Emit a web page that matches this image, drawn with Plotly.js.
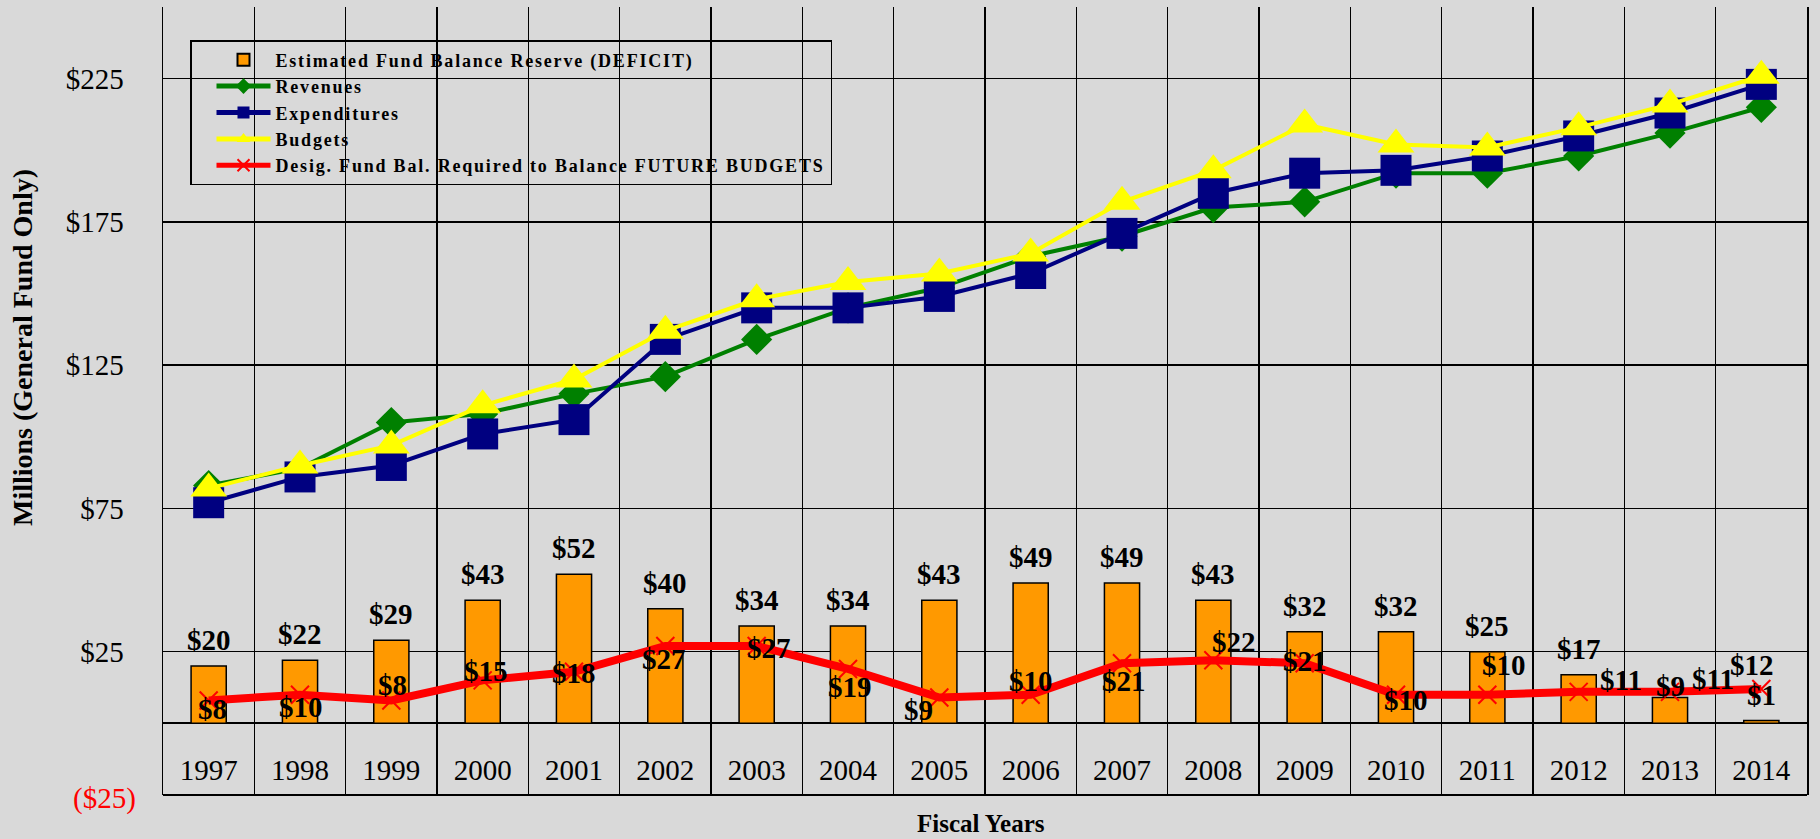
<!DOCTYPE html>
<html>
<head>
<meta charset="utf-8">
<script src="https://cdn.plot.ly/plotly-3.0.1.min.js"></script>
<style>
  html, body { margin: 0; padding: 0; background: #d9d9d9; }
  #chart { width: 1820px; height: 839px; }
  .legendtext { letter-spacing: 1.8px; }
</style>
</head>
<body>
<div id="chart"></div>
<script>
// ---- data ----
const years = ['1997','1998','1999','2000','2001','2002','2003','2004','2005','2006','2007','2008','2009','2010','2011','2012','2013','2014'];
const reserve = [20, 22, 29, 43, 52, 40, 34, 34, 43, 49, 49, 43, 32, 32, 25, 17, 9, 1];
const revenues = [83, 89, 105, 108, 115, 121, 134, 145, 152, 163, 170, 180, 182, 192, 192, 198, 206, 215];
const expenditures = [77, 86, 90, 101, 106, 134, 145, 145, 149, 157, 171, 185, 192, 193, 198, 205, 213, 223];
const budgets = [82, 90, 97, 111, 120, 137, 148, 154, 157, 164, 182, 193, 209, 202, 201, 208, 216, 226];
const designated = [8, 10, 8, 15, 18, 27, 27, 19, 9, 10, 21, 22, 21, 10, 10, 11, 11, 12];

const yTickVals = [-25, 25, 75, 125, 175, 225];
const yTickText = ['', '$25', '$75', '$125', '$175', '$225'];
const negTickLabel = '($25)';

const seriesNames = [
  'Estimated Fund Balance Reserve (DEFICIT)',
  'Revenues',
  'Expenditures',
  'Budgets',
  'Desig. Fund Bal. Required to Balance FUTURE BUDGETS'
];

// label placement (px) for the designated-fund labels: [dx right, dy down]
const redLabelOffset = [[4,9],[1,12],[1,-15],[3,-9],[0,1],[-1,13],[12,2],[2,18],[-21,12],[0,-14],[2,18],[21,-18],[0,-2],[10,5],[17,-30],[42,-12],[43,-13],[-9,-24]];
// lift (px) of the bar value labels above the bar tops
const barLabelLift = years.map(y => (y === '2013' ? -6 : 8));

const FONT = 'Liberation Serif, Times New Roman, serif';
const money = v => '$' + v;

const traces = [
  {
    type: 'bar', name: seriesNames[0], x: years, y: reserve,
    marker: { color: '#FF9900', line: { color: '#000000', width: 1.5 } },
    hoverinfo: 'skip'
  },
  {
    type: 'scatter', mode: 'lines+markers', name: seriesNames[1], x: years, y: revenues,
    line: { color: '#008000', width: 4 },
    marker: { symbol: 'diamond', size: 24, color: '#008000' },
    cliponaxis: false, hoverinfo: 'skip'
  },
  {
    type: 'scatter', mode: 'lines+markers', name: seriesNames[2], x: years, y: expenditures,
    line: { color: '#000080', width: 4 },
    marker: { symbol: 'square', size: 31, color: '#000080' },
    cliponaxis: false, hoverinfo: 'skip'
  },
  {
    type: 'scatter', mode: 'lines+markers', name: seriesNames[3], x: years, y: budgets,
    line: { color: '#FFFF00', width: 4 },
    marker: { symbol: 'triangle-up', size: 32, color: '#FFFF00' },
    cliponaxis: false, hoverinfo: 'skip'
  },
  {
    type: 'scatter', mode: 'lines+markers', name: seriesNames[4], x: years, y: designated,
    line: { color: '#FF0000', width: 8 },
    marker: { symbol: 'x-thin-open', size: 18, color: '#FF0000', line: { color: '#FF0000', width: 2 } },
    cliponaxis: false, hoverinfo: 'skip'
  }
];

const labelFont = { family: FONT, size: 29, color: '#000000', weight: 'bold' };
const annotations = [];

reserve.forEach((v, i) => annotations.push({
  x: i, y: v, xref: 'x', yref: 'y', text: money(v), showarrow: false,
  xanchor: 'center', yanchor: 'bottom', yshift: barLabelLift[i], font: labelFont
}));

designated.forEach((v, i) => annotations.push({
  x: i, y: v, xref: 'x', yref: 'y', text: money(v), showarrow: false,
  xanchor: 'center', yanchor: 'middle',
  xshift: redLabelOffset[i][0], yshift: -redLabelOffset[i][1], font: labelFont
}));

annotations.push({
  xref: 'paper', yref: 'y', x: (138 - 163) / 1644, y: yTickVals[0],
  xanchor: 'right', yanchor: 'middle', yshift: -3, showarrow: false,
  text: negTickLabel, font: { family: FONT, size: 29, color: '#FF0000' }
});
annotations.push({
  xref: 'paper', yref: 'paper', x: (22 - 163) / 1644, y: (795 - 348) / 788,
  xanchor: 'center', yanchor: 'middle', textangle: -90, showarrow: false,
  text: 'Millions (General Fund Only)',
  font: { family: FONT, size: 28, color: '#000000', weight: 'bold' }
});
annotations.push({
  xref: 'paper', yref: 'paper', x: (981 - 163) / 1644, y: (795 - 823) / 788,
  xanchor: 'center', yanchor: 'middle', showarrow: false,
  text: 'Fiscal Years',
  font: { family: FONT, size: 25, color: '#000000', weight: 'bold' }
});

const layout = {
  width: 1820, height: 839,
  margin: { l: 163, r: 13, t: 7, b: 44, pad: 0 },
  paper_bgcolor: '#d9d9d9', plot_bgcolor: '#d9d9d9',
  font: { family: FONT, color: '#000000' },
  showlegend: true,
  bargap: 0.615,
  xaxis: {
    type: 'category', anchor: 'free', position: 25 / 275,
    range: [-0.5, 17.5], tickson: 'boundaries',
    showgrid: true, gridcolor: '#000000', gridwidth: 1.5,
    showline: false, zeroline: false, ticks: '',
    tickfont: { family: FONT, size: 29, color: '#000000' },
    ticklabelstandoff: 27, fixedrange: true
  },
  yaxis: {
    range: [-25, 250], tickmode: 'array', tickvals: yTickVals, ticktext: yTickText,
    showgrid: true, gridcolor: '#000000', gridwidth: 1.5,
    zeroline: true, zerolinecolor: '#000000', zerolinewidth: 2,
    showline: true, mirror: true, linecolor: '#000000', linewidth: 1.5,
    ticks: '', tickfont: { family: FONT, size: 29, color: '#000000' },
    ticklabelstandoff: 32, fixedrange: true
  },
  shapes: [{
    type: 'line', xref: 'paper', yref: 'paper', x0: 0, x1: 1, y0: 0, y1: 0,
    line: { color: '#000000', width: 2 }
  }],
  legend: {
    x: (190 - 163) / 1644, y: (795 - 40) / 788, xanchor: 'left', yanchor: 'top',
    bgcolor: 'rgba(0,0,0,0)', bordercolor: '#000000', borderwidth: 1.5,
    font: { family: FONT, size: 18, color: '#000000', weight: 'bold' },
    itemsizing: 'constant', itemwidth: 54, indentation: 20,
    traceorder: 'normal'
  },
  annotations: annotations
};

Plotly.newPlot('chart', traces, layout, { displayModeBar: false, staticPlot: true });
</script>
</body>
</html>
